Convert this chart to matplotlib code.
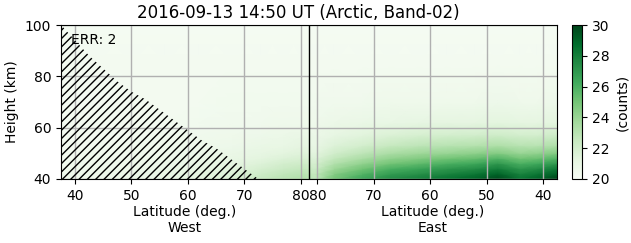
import numpy as np
import matplotlib
matplotlib.use("Agg")
import matplotlib.pyplot as plt

# === Data ===
# x coordinate runs along the track: West latitude = x, East latitude = 163 - x
x_cols = [37.5, 44, 50, 56, 62, 68, 73, 77, 80.5, 82.5, 86, 91, 96, 101, 106, 111, 115, 119, 122, 125.5]
heights = [40, 42, 44, 46, 48, 50, 53, 57, 62, 70, 85, 100]
counts = [
    [20.5, 20.6, 20.8, 21.0, 21.3, 21.8, 22.5, 23.0, 23.3, 22.8, 25.0, 26.5, 27.5, 28.0, 28.5, 29.0, 29.8, 28.5, 29.0, 30.0],
    [20.5, 20.6, 20.7, 20.9, 21.2, 21.6, 22.2, 22.7, 23.0, 22.5, 24.5, 25.8, 26.8, 27.3, 27.8, 28.3, 29.0, 27.8, 28.3, 29.2],
    [20.4, 20.5, 20.6, 20.8, 21.0, 21.4, 21.9, 22.3, 22.6, 22.2, 23.8, 25.0, 26.0, 26.5, 27.0, 27.4, 28.0, 27.0, 27.4, 28.2],
    [20.4, 20.5, 20.6, 20.7, 20.9, 21.2, 21.6, 22.0, 22.2, 21.9, 23.2, 24.2, 25.0, 25.5, 26.0, 26.4, 27.0, 26.0, 26.3, 27.0],
    [20.3, 20.4, 20.5, 20.6, 20.8, 21.0, 21.3, 21.6, 21.8, 21.6, 22.6, 23.4, 24.2, 24.6, 25.0, 25.3, 25.8, 25.0, 25.2, 25.8],
    [20.3, 20.4, 20.4, 20.5, 20.7, 20.9, 21.1, 21.3, 21.5, 21.3, 22.1, 22.8, 23.4, 23.8, 24.0, 24.3, 24.6, 24.0, 24.2, 24.6],
    [20.3, 20.3, 20.4, 20.5, 20.6, 20.7, 20.9, 21.0, 21.2, 21.0, 21.6, 22.0, 22.5, 22.8, 23.0, 23.1, 23.3, 23.0, 23.0, 23.3],
    [20.3, 20.3, 20.3, 20.4, 20.5, 20.6, 20.7, 20.8, 20.9, 20.8, 21.1, 21.4, 21.7, 21.9, 22.0, 22.1, 22.2, 22.0, 22.0, 22.2],
    [20.2, 20.3, 20.3, 20.3, 20.4, 20.5, 20.5, 20.6, 20.6, 20.6, 20.8, 20.9, 21.0, 21.1, 21.2, 21.2, 21.3, 21.2, 21.2, 21.3],
    [20.2, 20.2, 20.3, 20.3, 20.3, 20.4, 20.4, 20.4, 20.4, 20.4, 20.5, 20.5, 20.6, 20.6, 20.6, 20.6, 20.7, 20.6, 20.6, 20.7],
    [20.3] * 20,
    [20.2] * 20,
]

# hatched (error) region: upper boundary height vs West latitude
err_lat = [37.5, 40, 42.5, 45, 47.5, 50, 52.5, 55, 57.5, 60, 62.5, 65, 67.5, 70, 72.5]
err_top = [100, 94, 88, 83, 78, 74, 71, 67, 63, 59, 55, 52, 48, 44, 40]

west_ticks = [40, 50, 60, 70, 80]
east_ticks = [80, 70, 60, 50, 40]
lat_max = 81.5
x_min, x_max = 37.5, 125.5

# === Figure ===
fig = plt.figure(figsize=(6.31, 2.43), dpi=100)
ax = fig.add_axes([0.0967, 0.2634, 0.786, 0.6337])
cax = fig.add_axes([0.9065, 0.2634, 0.0158, 0.6337])

X, Y = np.meshgrid(x_cols, heights)
mesh = ax.pcolormesh(X, Y, np.array(counts), cmap="Greens", vmin=20, vmax=30,
                     shading="gouraud")

ax.fill_between(err_lat, err_top, 40, facecolor="none",
                edgecolor="black", hatch="////", linewidth=0, zorder=2)

ax.axvline(lat_max, color="black", linewidth=1, zorder=3)

ax.set_xlim(x_min, x_max)
ax.set_ylim(40, 100)
ax.set_yticks([40, 60, 80, 100])
xt = list(west_ticks) + [2 * lat_max - v for v in east_ticks]
ax.set_xticks(xt)
ax.set_xticklabels([str(v) for v in west_ticks + east_ticks])
ax.grid(True, color="#b0b0b0", linewidth=1)
ax.set_ylabel("Height (km)")

ax.text(0.02, 0.95, "ERR: 2", transform=ax.transAxes, fontsize=10,
        ha="left", va="top")

tr = ax.get_xaxis_transform()
ax.text((x_min + lat_max) / 2, -0.17, "Latitude (deg.)\nWest", transform=tr,
        ha="center", va="top", fontsize=10)
ax.text((lat_max + x_max) / 2, -0.17, "Latitude (deg.)\nEast", transform=tr,
        ha="center", va="top", fontsize=10)

cb = fig.colorbar(mesh, cax=cax)
cb.set_ticks([20, 22, 24, 26, 28, 30])
cb.set_label("(counts)")

fig.text(0.472, 0.985, "2016-09-13 14:50 UT (Arctic, Band-02)", ha="center",
         va="top", fontsize=12)

fig.savefig("out.png", dpi=100)
